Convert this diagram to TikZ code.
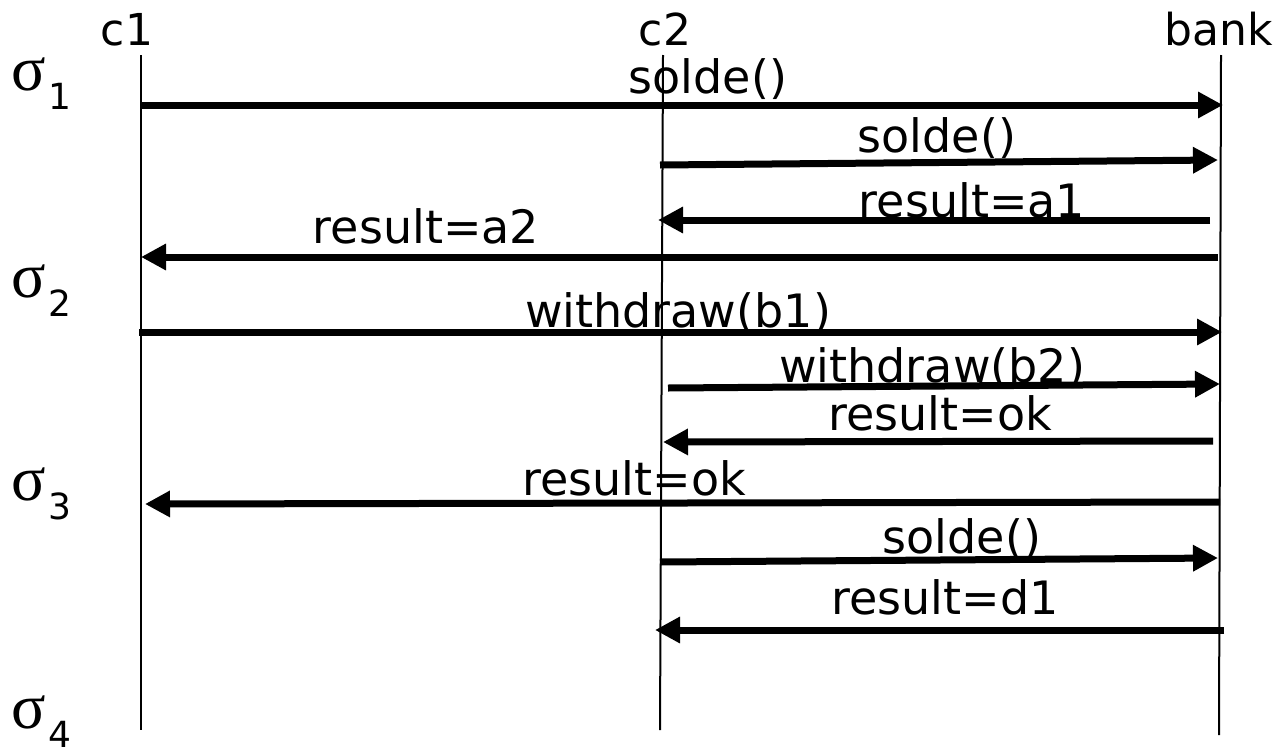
\documentclass[tikz,border=0pt]{standalone}
\usepackage{fontspec}
\setmainfont{DejaVu Sans}
\newfontfamily\sigfont{Liberation Serif}
\usetikzlibrary{arrows.meta}

\tikzset{
    life/.style={line width=2pt},
    msg/.style={line width=7pt,-{Triangle[length=25pt,width=25pt]}},
    hdr/.style={anchor=base,inner sep=0pt,font=\fontsize{44}{48}\selectfont},
    lbl/.style={anchor=base,inner sep=0pt,font=\fontsize{46}{50}\selectfont},
    sig/.style={anchor=base west,inner sep=0pt,font=\fontsize{64}{66}\sigfont}
}
\newcommand{\sigsub}[1]{\hspace{3pt}\raisebox{-19pt}{\fontsize{36}{38}\rmfamily #1}}

\begin{document}
\begin{tikzpicture}[x=1pt,y=-1pt]
\useasboundingbox (0,0) rectangle (1281,755);

\begin{scope}

    % lifelines
    \coordinate (c1t) at (141,55);
    \coordinate (c1b) at (141,730);
    \coordinate (c2t) at (663,55);
    \coordinate (c2b) at (660,730);
    \coordinate (bkt) at (1221,55);
    \coordinate (bkb) at (1219,735);

    \node[hdr] (C1) at (127,45) {c1};
    \node[hdr] (C2) at (665,45) {c2};
    \node[hdr] (BK) at (1219,45) {bank};

    % states
    \node[sig] (S1) at (11,90) {σ\sigsub{1}};
    \node[sig] (S2) at (11,297) {σ\sigsub{2}};
    \node[sig] (S3) at (11,500) {σ\sigsub{3}};
    \node[sig] (S4) at (11,728) {σ\sigsub{4}};

    % message labels
    \node[lbl] (L1) at (708,93) {solde()};
    \node[lbl] (L2) at (937,152) {solde()};
    \node[lbl] (L3) at (972,217) {result=a1};
    \node[lbl] (L4) at (426,243) {result=a2};
    \node[lbl] (L5) at (678,327) {withdraw(b1)};
    \node[lbl] (L6) at (932,382) {withdraw(b2)};
    \node[lbl] (L7) at (940,430) {result=ok};
    \node[lbl] (L8) at (634,495) {result=ok};
    \node[lbl] (L9) at (962,553) {solde()};
    \node[lbl] (L10) at (945,614) {result=d1};

    % message ends
    \coordinate (m1a) at (141,105);   \coordinate (m1b) at (1223,105);
    \coordinate (m2a) at (660,165);   \coordinate (m2b) at (1218,160);
    \coordinate (m3a) at (1210,220);  \coordinate (m3b) at (658,220);
    \coordinate (m4a) at (1218,257);  \coordinate (m4b) at (141,257);
    \coordinate (m5a) at (139,332);   \coordinate (m5b) at (1222,332);
    \coordinate (m6a) at (668,388);   \coordinate (m6b) at (1220,384);
    \coordinate (m7a) at (1213,441);  \coordinate (m7b) at (663,442);
    \coordinate (m8a) at (1220,502);  \coordinate (m8b) at (145,504);
    \coordinate (m9a) at (660,562);   \coordinate (m9b) at (1218,558);
    \coordinate (m10a) at (1224,630); \coordinate (m10b) at (655,630);

\end{scope}

\begin{scope}

    \draw[life] (c1t) -- (c1b);
    \draw[life] (c2t) -- (c2b);
    \draw[life] (bkt) -- (bkb);

    \draw[msg] (m1a) -- (m1b);
    \draw[msg] (m2a) -- (m2b);
    \draw[msg] (m3a) -- (m3b);
    \draw[msg] (m4a) -- (m4b);
    \draw[msg] (m5a) -- (m5b);
    \draw[msg] (m6a) -- (m6b);
    \draw[msg] (m7a) -- (m7b);
    \draw[msg] (m8a) -- (m8b);
    \draw[msg] (m9a) -- (m9b);
    \draw[msg] (m10a) -- (m10b);

\end{scope}

\end{tikzpicture}
\end{document}
